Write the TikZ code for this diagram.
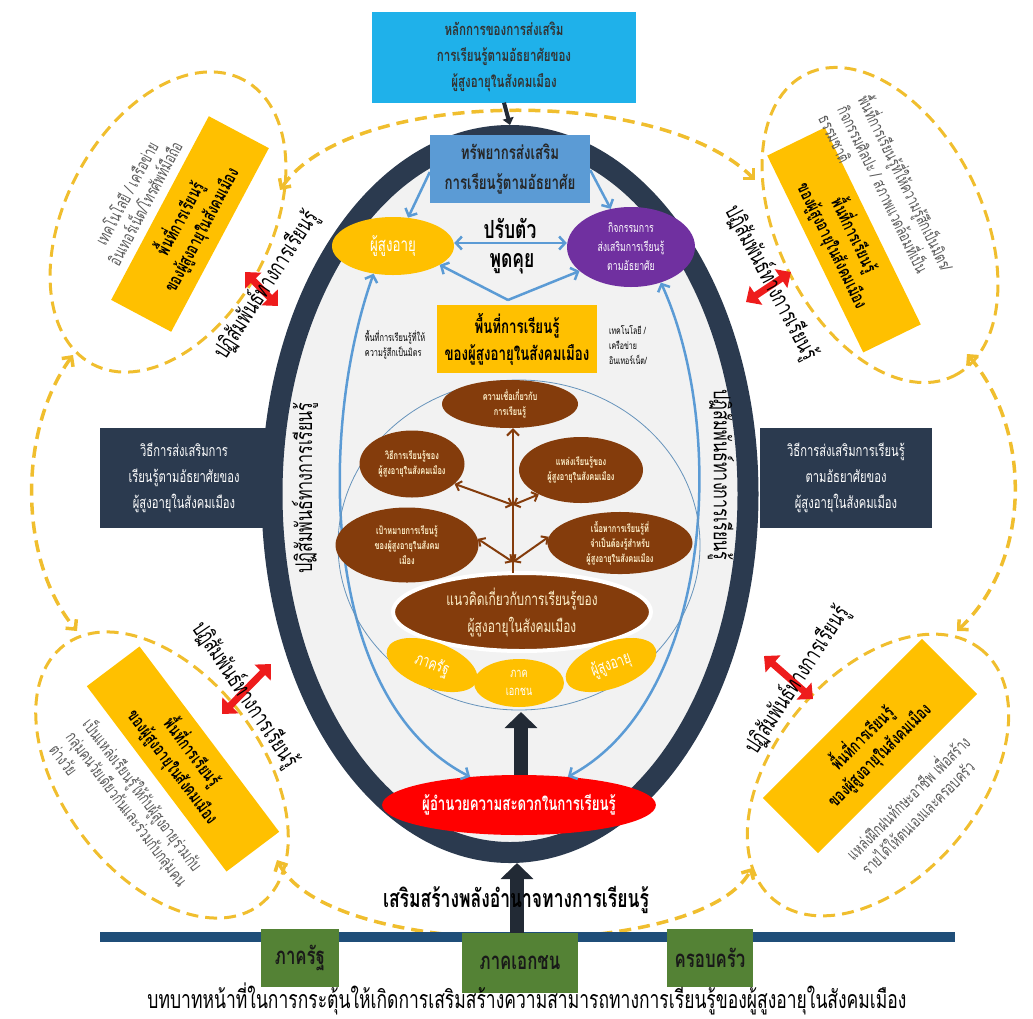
\documentclass[tikz,border=0pt]{standalone}
\usepackage{fontspec}
\newfontfamily\thai[Script=Thai,FakeStretch=0.7]{Loma}
\usetikzlibrary{arrows.meta,shapes.geometric}
\definecolor{topcyan}{HTML}{1FB1EA}
\definecolor{resblue}{HTML}{5B9BD5}
\definecolor{gold}{HTML}{FFC000}
\definecolor{violet}{HTML}{7030A0}
\definecolor{brownn}{HTML}{843C0C}
\definecolor{navy}{HTML}{2B3A4F}
\definecolor{ringfill}{HTML}{F2F2F2}
\definecolor{dashy}{HTML}{F0BE2E}
\definecolor{lblue}{HTML}{5B9BD5}
\definecolor{redd}{HTML}{FF0000}
\definecolor{redarrow}{HTML}{EE1C1C}
\definecolor{greenb}{HTML}{548235}
\definecolor{lineblue}{HTML}{1F4E79}
\definecolor{grayt}{HTML}{595959}
\definecolor{cream}{HTML}{FFF2CC}
\definecolor{darkarrow}{HTML}{222A35}
\begin{document}
\begin{tikzpicture}[x=1pt,y=-1pt,
  every node/.style={inner sep=2pt},
  dashell/.style={draw=dashy, dash pattern=on 12pt off 7pt, line width=3pt, ellipse},
  dashconn/.style={draw=dashy, dash pattern=on 12pt off 7pt, line width=3.5pt,
    {Straight Barb[length=7pt,width=14pt]}-{Straight Barb[length=7pt,width=14pt]}},
  goldbox/.style={fill=gold, align=center, inner sep=0pt, font=\thai\bfseries\fontsize{18}{24}\selectfont},
  graytxt/.style={text=grayt, align=left, inner sep=0pt, font=\thai\fontsize{17}{21}\selectfont},
  inter/.style={inner sep=0pt, font=\thai\fontsize{23}{26}\selectfont},
  redarr/.style={draw=redarrow, line width=7pt,
    {Triangle[length=12pt,width=22pt]}-{Triangle[length=12pt,width=22pt]}},
  bluearr/.style={draw=lblue, line width=2.5pt,
    {Straight Barb[length=6pt,width=13pt]}-{Straight Barb[length=6pt,width=13pt]}},
  bluearrone/.style={draw=lblue, line width=2.5pt, -{Straight Barb[length=6pt,width=13pt]}},
  treearr/.style={draw=brownn, line width=2pt,
    {Straight Barb[length=5pt,width=10pt]}-{Straight Barb[length=5pt,width=10pt]}},
  brownell/.style={ellipse, fill=brownn, text=cream, align=center, inner sep=0pt,
    font=\thai\bfseries\fontsize{10.5}{15}\selectfont},
  goldell/.style={ellipse, fill=gold, text=white, align=center, inner sep=0pt,
    font=\thai\fontsize{17}{18}\selectfont},
  darkbox/.style={fill=navy, text=white, align=center, inner sep=0pt,
    font=\thai\fontsize{16}{26}\selectfont},
  greenbox/.style={fill=greenb, text=black!90, inner sep=0pt,
    font=\thai\bfseries\fontsize{24}{26}\selectfont},
  bigarr/.style={draw=darkarrow, line width=14pt, -{Triangle[length=16pt,width=32pt]}}
]
\useasboundingbox (0,0) rectangle (1033,1018);

% ---------- outer dashed ellipses ----------
\node[dashell, rotate=62, minimum width=322, minimum height=205] (tle) at (168,222) {};
\node[dashell, rotate=-64, minimum width=336, minimum height=205] (tre) at (880,225) {};
\node[dashell, rotate=-53, minimum width=325, minimum height=200] (ble) at (162,775) {};
\node[dashell, rotate=50, minimum width=325, minimum height=205] (bre) at (878,775) {};

% ---------- dashed connectors ----------
\coordinate (c1a) at (280,190);
\coordinate (c1b) at (755,180);
\coordinate (c2a) at (73,355);
\coordinate (c2b) at (77,631);
\coordinate (c3a) at (277,860);
\coordinate (c3b) at (752,868);
\coordinate (c4a) at (967,354);
\coordinate (c4b) at (957,631);
\draw[dashconn] (c1a) .. controls (350,88) and (660,85) .. (c1b);
\draw[dashconn] (c2a) .. controls (18,430) and (18,560) .. (c2b);
\draw[dashconn] (c3a) .. controls (330,962) and (700,962) .. (c3b);
\draw[dashconn] (c4a) .. controls (1032,430) and (1032,560) .. (c4b);

% ---------- outer gold boxes & grey texts ----------
\node[goldbox, rotate=62, minimum width=208, minimum height=68] (tlb) at (190,224)
  {พื้นที่การเรียนรู้\\ของผู้สูงอายุในสังคมเมือง};
\node[graytxt, align=center, rotate=62] (tlg) at (135,198)
  {เทคโนโลยี / เครือข่าย\\อินเทอร์เน็ต/โทรศัพท์มือถือ};
\node[goldbox, rotate=-64, minimum width=219, minimum height=64] (trb) at (844,240)
  {พื้นที่การเรียนรู้\\ของผู้สูงอายุในสังคมเมือง};
\node[graytxt, rotate=-64] (trg) at (888,192)
  {พื้นที่การเรียนรู้ที่ให้ความรู้สึกเป็นมิตร/\\กิจกรรมศิลปะ / สภาพแวดล้อมที่เป็น\\ธรรมชาติ};
\node[goldbox, rotate=-53, minimum width=232, minimum height=66] (blb) at (183,759)
  {พื้นที่การเรียนรู้\\ของผู้สูงอายุในสังคมเมือง};
\node[graytxt, rotate=-53] (blg) at (128,808)
  {เป็นแหล่งเรียนรู้ให้กับผู้สูงอายุร่วมกับ\\กลุ่มคนวัยเดียวกันและร่วมกับกลุ่มคน\\ต่างวัย};
\node[goldbox, rotate=45, minimum width=225, minimum height=78] (brb) at (870,746)
  {พื้นที่การเรียนรู้\\ของผู้สูงอายุในสังคมเมือง};
\node[graytxt, rotate=45] (brg) at (914,804)
  {แหล่งฝึกฝนทักษะอาชีพ เพื่อสร้าง\\รายได้ให้ตนเองและครอบครัว};

% ---------- bottom line ----------
\coordinate (lineL) at (100,937);
\coordinate (lineR) at (955,937);
\draw[lineblue, line width=10pt] (lineL) -- (lineR);

% ---------- big ring ----------
\node[ellipse, draw=navy, line width=21pt, fill=ringfill, minimum width=476, minimum height=717] (ring) at (510,494) {};

% side boxes
\node[darkbox, minimum width=168, minimum height=100] (lbox) at (184,478)
  {วิธีการส่งเสริมการ\\เรียนรู้ตามอัธยาศัยของ\\ผู้สูงอายุในสังคมเมือง};
\node[darkbox, minimum width=172, minimum height=100] (rbox) at (846,478)
  {วิธีการส่งเสริมการเรียนรู้\\ตามอัธยาศัยของ\\ผู้สูงอายุในสังคมเมือง};

% red arrows and interaction labels
\coordinate (r1a) at (245,272); \coordinate (r1b) at (278,306);
\coordinate (r2a) at (746,302); \coordinate (r2b) at (791,272);
\coordinate (r3a) at (222,714); \coordinate (r3b) at (271,664);
\coordinate (r4a) at (764,656); \coordinate (r4b) at (813,699);
\draw[redarr] (r1a) -- (r1b);
\draw[redarr] (r2a) -- (r2b);
\draw[redarr] (r3a) -- (r3b);
\draw[redarr] (r4a) -- (r4b);
\node[inter, rotate=57] (i1) at (266,285) {ปฏิสัมพันธ์ทางการเรียนรู้};
\node[inter, rotate=-62] (i2) at (771,283) {ปฏิสัมพันธ์ทางการเรียนรู้};
\node[inter, rotate=-56] (i3) at (245,695) {ปฏิสัมพันธ์ทางการเรียนรู้};
\node[inter, rotate=57] (i4) at (797,680) {ปฏิสัมพันธ์ทางการเรียนรู้};
\node[inter, rotate=90] (i5) at (305,488) {ปฏิสัมพันธ์ทางการเรียนรู้};
\node[inter, rotate=-90] (i6) at (721,475) {ปฏิสัมพันธ์ทางการเรียนรู้};

% ---------- top box ----------
\node[fill=topcyan, minimum width=264, minimum height=91, align=center, inner sep=0pt,
  font=\thai\bfseries\fontsize{16.5}{26}\selectfont, text=black!80] (top) at (504,57)
  {หลักการของการส่งเสริม\\การเรียนรู้ตามอัธยาศัยของ\\ผู้สูงอายุในสังคมเมือง};
\draw[darkarrow, line width=4pt, -{Triangle[length=7pt,width=11pt]}] (top.south) -- (ring.north);

% resource box
\node[fill=resblue, minimum width=160, minimum height=68, align=center, inner sep=0pt,
  font=\thai\bfseries\fontsize{19}{30}\selectfont, text=black!85] (res) at (510,169)
  {ทรัพยากรส่งเสริม\\การเรียนรู้ตามอัธยาศัย};

% elders and activities
\node[ellipse, fill=gold, minimum width=122, minimum height=58, text=white, inner sep=0pt,
  font=\thai\fontsize{19}{20}\selectfont] (sen) at (393,246) {ผู้สูงอายุ};
\node[ellipse, fill=violet, minimum width=128, minimum height=80, text=white, align=center, inner sep=0pt,
  font=\thai\fontsize{12.5}{19}\selectfont] (act) at (631,247) {กิจกรรมการ\\ส่งเสริมการเรียนรู้\\ตามอัธยาศัย};

\draw[bluearrone] (res.west |- 0,172) -- (sen.62);
\draw[bluearrone] (res.east |- 0,170) -- (act.118);
\coordinate (vtip) at (508,300);
\draw[bluearr] (sen.east |- 0,243) -- (act.west |- 0,243);
\draw[draw=lblue, line width=2.5pt, {Straight Barb[length=6pt,width=13pt]}-] (sen.-22) -- (vtip);
\draw[draw=lblue, line width=2.5pt, -{Straight Barb[length=6pt,width=13pt]}] (vtip) -- (act.-155);
\node[font=\thai\bfseries\fontsize{25}{26}\selectfont, inner sep=0pt] (adapt) at (510,228) {ปรับตัว};
\node[font=\thai\bfseries\fontsize{25}{26}\selectfont, inner sep=0pt] (talk) at (512,264) {พูดคุย};

% central gold box & small texts
\node[goldbox, minimum width=160, minimum height=68, font=\thai\bfseries\fontsize{19}{27}\selectfont] (cbox) at (517,339)
  {พื้นที่การเรียนรู้\\ของผู้สูงอายุในสังคมเมือง};
\node[inner sep=0pt, align=left, font=\thai\fontsize{10.5}{15}\selectfont] (cl) at (395,345)
  {พื้นที่การเรียนรู้ที่ให้\\ความรู้สึกเป็นมิตร};
\node[inner sep=0pt, align=left, font=\thai\fontsize{10}{15}\selectfont] (cr) at (628,345)
  {เทคโนโลยี /\\เครือข่าย\\อินเทอร์เน็ต/};

% facilitator
\node[ellipse, fill=redd, minimum width=232, minimum height=60, text=white, inner sep=0pt,
  font=\thai\bfseries\fontsize{19}{20}\selectfont] (fac) at (519,805) {ผู้อำนวยความสะดวกในการเรียนรู้};

% big blue loop
\draw[bluearr] (sen.-125) .. controls (318,430) and (320,700) .. (fac.150);
\draw[bluearr] (act.-50) .. controls (728,430) and (712,700) .. (fac.30);

% inner circle
\node[ellipse, draw=lblue!70!gray, line width=0.8pt, minimum width=362, minimum height=330] (circ) at (519,545) {};

% tree
\node[brownell, minimum width=136, minimum height=48] (belief) at (510,404) {ความเชื่อเกี่ยวกับ\\การเรียนรู้};
\node[brownell, minimum width=105, minimum height=67] (method) at (412,464) {วิธีการเรียนรู้ของ\\ผู้สูงอายุในสังคมเมือง};
\node[brownell, minimum width=124, minimum height=66] (source) at (581,470) {แหล่งเรียนรู้ของ\\ผู้สูงอายุในสังคมเมือง};
\node[brownell, minimum width=143, minimum height=75] (goal) at (407,545) {เป้าหมายการเรียนรู้\\ของผู้สูงอายุในสังคม\\เมือง};
\node[brownell, minimum width=145, minimum height=62] (content) at (620,543) {เนื้อหาการเรียนรู้ที่\\จำเป็นต้องรู้สำหรับ\\ผู้สูงอายุในสังคมเมือง};
\node[ellipse, fill=brownn, draw=white, line width=4pt, minimum width=258, minimum height=78, text=cream,
  align=center, inner sep=0pt, font=\thai\fontsize{17}{27}\selectfont] (concept) at (522,612)
  {แนวคิดเกี่ยวกับการเรียนรู้ของ\\ผู้สูงอายุในสังคมเมือง};
\coordinate (stemb) at (513,573);
\coordinate (s1) at (513,505);
\coordinate (s2) at (513,562);
\draw[draw=brownn, line width=2pt, -{Straight Barb[length=6pt,width=12pt]}] (stemb) -- (belief.south -| stemb);
\draw[treearr] (s1) -- (method.-25);
\draw[treearr] (s1) -- (source.-150);
\draw[treearr] (s2) -- (goal.5);
\draw[treearr] (s2) -- (content.175);

\node[goldell, rotate=-20, minimum width=95, minimum height=46] (gov) at (432,665) {ภาครัฐ};
\node[goldell, minimum width=90, minimum height=48, font=\thai\fontsize{13}{18}\selectfont] (priv) at (519,683) {ภาค\\เอกชน};
\node[goldell, rotate=20, minimum width=95, minimum height=46] (eld) at (611,665) {ผู้สูงอายุ};

% dark arrows
\draw[bigarr] (fac.north -| 0,0) ++(521,0) -- (521,712);
\coordinate (baseA) at (517,935);
\draw[bigarr] (baseA) -- (ring.south -| baseA);

% bottom texts
\node[inner sep=0pt, font=\thai\bfseries\fontsize{25}{26}\selectfont] (empower) at (516,900) {เสริมสร้างพลังอำนาจทางการเรียนรู้};
\node[greenbox, minimum width=78, minimum height=58] (g1) at (300,958) {ภาครัฐ};
\node[greenbox, minimum width=116, minimum height=60] (g2) at (520,963) {ภาคเอกชน};
\node[greenbox, minimum width=86, minimum height=58] (g3) at (710,958) {ครอบครัว};
\node[inner sep=0pt, font=\thai\fontsize{25}{27}\selectfont] (role) at (527,999)
  {บทบาทหน้าที่ในการกระตุ้นให้เกิดการเสริมสร้างความสามารถทางการเรียนรู้ของผู้สูงอายุในสังคมเมือง};
\end{tikzpicture}
\end{document}
